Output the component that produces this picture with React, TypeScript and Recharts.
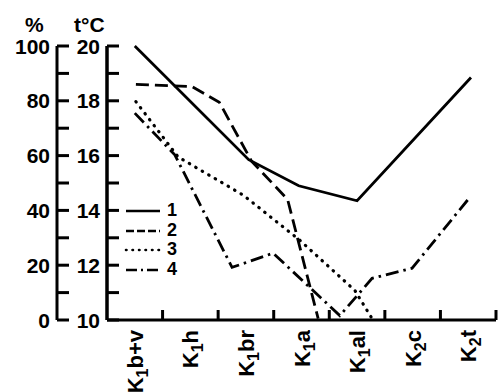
import React from "react";
import { LineChart, Line, XAxis, YAxis, Legend, ReferenceLine } from "recharts";

// stratigraphic stages (x categories), K + subscript digit + stage letters
const stages = ["K1b+v", "K1h", "K1br", "K1a", "K1al", "K2c", "K2t"];
const stageCenters = [0, 1, 2, 3, 4, 5, 6];
const stageEdges = [0.5, 1.5, 2.5, 3.5, 4.5, 5.5, 6.5];

const pctTicks = [0, 10, 20, 30, 40, 50, 60, 70, 80, 90, 100];
const tempTicks = [10, 11, 12, 13, 14, 15, 16, 17, 18, 19, 20];

// sample positions (in stage units) and values (°C scale, 10–20 ~ 0–100 %)
const pos1 = [0, 2.05, 2.95, 4.0, 6.05];
const val1 = [20.0, 15.85, 14.9, 14.35, 18.85];

const pos2 = [0.02, 1.03, 1.52, 2.1, 2.75, 3.3];
const val2 = [18.6, 18.52, 17.95, 15.8, 14.4, 10.05];

const pos3 = [0.02, 0.78, 1.95, 2.97, 3.96, 4.27];
const val3 = [17.97, 15.95, 14.56, 12.91, 11.08, 10.05];

const pos4 = [0, 0.72, 1.75, 2.49, 3.69, 4.27, 4.99, 5.99];
const val4 = [17.55, 16.03, 11.92, 12.44, 10.16, 11.52, 11.89, 14.38];

const toPoints = (xs: number[], ys: number[]) => xs.map((x, i) => ({ x, y: ys[i] }));

const series = [
  { name: "1", data: toPoints(pos1, val1), dash: undefined, key: undefined, cap: "butt" },
  { name: "2", data: toPoints(pos2, val2), dash: "13 6", key: "8 3", cap: "butt" },
  { name: "3", data: toPoints(pos3, val3), dash: "0.5 7", key: "0.5 6", cap: "round" },
  { name: "4", data: toPoints(pos4, val4), dash: "13 5 2.5 5", key: "11 4 2 4", cap: "butt" },
];

const FONT = "'Liberation Sans', Arial, sans-serif";

function StageTick({ x, y, payload }: any) {
  const v = payload.value;
  if (!Number.isInteger(v)) {
    return <line x1={x} y1={y} x2={x} y2={y - 10} stroke="#000" strokeWidth={3} />;
  }
  const m = stages[v].match(/^(\D+)(\d)(.*)$/);
  const px = x + 8;
  const py = y + 10;
  return (
    <text
      x={px}
      y={py}
      transform={`rotate(-90, ${px}, ${py})`}
      textAnchor="end"
      fontFamily={FONT}
      fontWeight="bold"
      fontSize={22}
      fill="#000"
    >
      <tspan>{m ? m[1] : stages[v]}</tspan>
      {m && (
        <tspan fontSize={16} dy={5}>
          {m[2]}
        </tspan>
      )}
      {m && <tspan dy={-5}>{m[3]}</tspan>}
    </text>
  );
}

function ValueTick({ x, y, payload, step }: any) {
  const v = payload.value;
  return (
    <g>
      <line x1={x} y1={y} x2={x + 12} y2={y} stroke="#000" strokeWidth={3} />
      {v % step === 0 && (
        <text
          x={x - 7}
          y={y}
          dy="0.36em"
          textAnchor="end"
          fontFamily={FONT}
          fontWeight="bold"
          fontSize={21}
          fill="#000"
        >
          {v}
        </text>
      )}
    </g>
  );
}

function LegendBox({ payload }: any) {
  return (
    <div style={{ fontFamily: FONT, fontWeight: "bold", fontSize: 18 }}>
      {(payload || []).map((p: any) => {
        const s = series.find((d) => d.name === p.value);
        return (
          <div key={p.value} style={{ display: "flex", alignItems: "center", height: 19.5 }}>
            <svg width={40} height={19}>
              <line
                x1={2}
                y1={10}
                x2={36}
                y2={10}
                stroke="#000"
                strokeWidth={2.6}
                strokeDasharray={s?.key}
                strokeLinecap={s?.cap as any}
              />
            </svg>
            <span style={{ marginLeft: 3, lineHeight: "19px" }}>{p.value}</span>
          </div>
        );
      })}
    </div>
  );
}

const axisTitle = (text: string, dx: number) => (props: any) => (
  <text x={props.viewBox.x + dx} y={32} fontFamily={FONT} fontWeight="bold" fontSize={21} fill="#000">
    {text}
  </text>
);

export default function App() {
  return (
    <div style={{ position: "absolute", left: 0, top: 0, background: "#fff" }}>
      <LineChart width={498} height={392} margin={{ top: 46, right: 2, bottom: 0, left: 0 }}>
        <XAxis
          dataKey="x"
          type="number"
          domain={[-0.5, 6.5]}
          ticks={[...stageCenters, ...stageEdges].sort((a, b) => a - b)}
          interval={0}
          allowDataOverflow
          height={72}
          tickLine={false}
          tickSize={0}
          tickMargin={0}
          axisLine={{ stroke: "#000", strokeWidth: 3 }}
          tick={<StageTick />}
        />
        <YAxis
          yAxisId="a_temp"
          type="number"
          domain={[10, 20]}
          ticks={tempTicks}
          interval={0}
          width={50}
          tickLine={false}
          tickSize={0}
          tickMargin={0}
          axisLine={{ stroke: "#000", strokeWidth: 3 }}
          tick={<ValueTick step={2} />}
          label={axisTitle("t°C", 17)}
        />
        <YAxis
          yAxisId="b_pct"
          type="number"
          domain={[0, 100]}
          allowDataOverflow
          ticks={pctTicks}
          interval={0}
          width={57}
          tickLine={false}
          tickSize={0}
          tickMargin={0}
          axisLine={{ stroke: "#000", strokeWidth: 3 }}
          tick={<ValueTick step={20} />}
          label={axisTitle("%", 25)}
        />
        <ReferenceLine x={-0.5} yAxisId="a_temp" stroke="#000" strokeWidth={3} ifOverflow="visible" />
        <Legend
          layout="vertical"
          align="center"
          verticalAlign="middle"
          content={<LegendBox />}
          wrapperStyle={{ position: "absolute", left: 124, top: 201, width: 70 }}
        />
        {series.map((s) => (
          <Line
            key={s.name}
            name={s.name}
            data={s.data}
            dataKey="y"
            yAxisId="a_temp"
            type="linear"
            stroke="#000"
            strokeWidth={s.cap === "round" ? 3.2 : 2.8}
            strokeDasharray={s.dash}
            strokeLinecap={s.cap as any}
            dot={false}
            activeDot={false}
            isAnimationActive={false}
          />
        ))}
      </LineChart>
    </div>
  );
}
